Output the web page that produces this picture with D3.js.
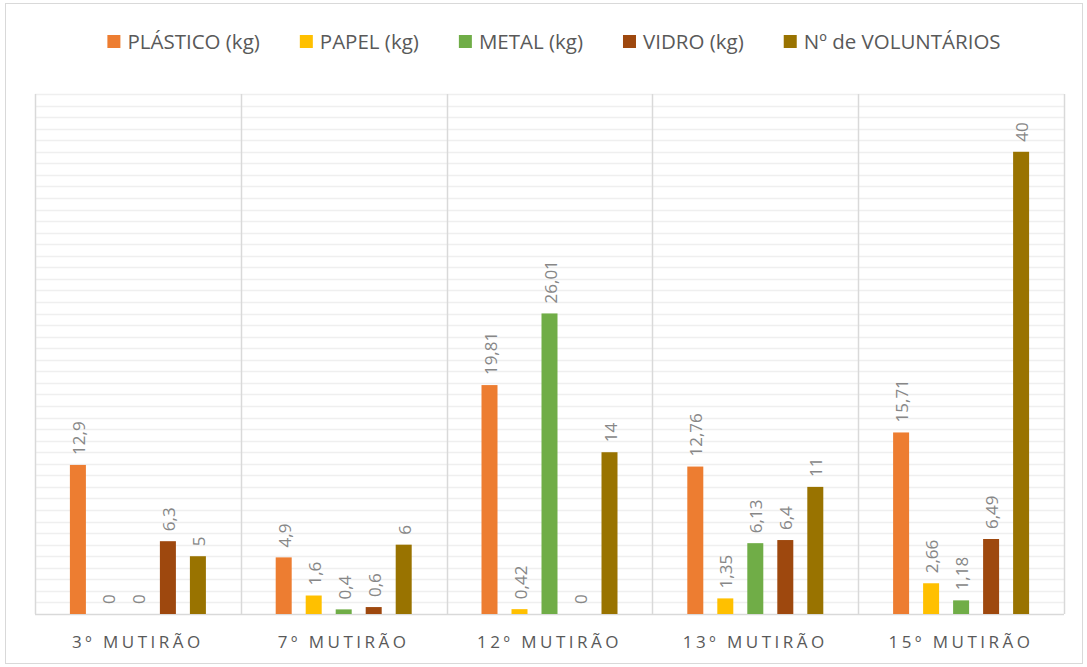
<!DOCTYPE html>
<html>
<head>
<meta charset="utf-8">
<script src="https://cdn.jsdelivr.net/npm/d3@7"></script>
<style>
  body { margin: 0; background: #fff; }
  text { font-family: "Open Sans", Lato, sans-serif; }
</style>
</head>
<body>
<script>
const categories = ["3º MUTIRÃO", "7º MUTIRÃO", "12º MUTIRÃO", "13º MUTIRÃO", "15º MUTIRÃO"];
const seriesNames = ["PLÁSTICO (kg)", "PAPEL (kg)", "METAL (kg)", "VIDRO (kg)", "Nº de VOLUNTÁRIOS"];
const plastico = [12.9, 4.9, 19.81, 12.76, 15.71];
const papel = [0, 1.6, 0.42, 1.35, 2.66];
const metal = [0, 0.4, 26.01, 6.13, 1.18];
const vidro = [6.3, 0.6, 0, 6.4, 6.49];
const voluntarios = [5, 6, 14, 11, 40];
const colors = ["#ED7D31", "#FFC000", "#70AD47", "#9E480E", "#997300"];

const allSeries = [plastico, papel, metal, vidro, voluntarios];

const W = 1087, H = 667;
const margin = {top: 94, right: 23, bottom: 53, left: 35};

const svg = d3.select("body").append("svg")
    .attr("width", W)
    .attr("height", H);

// chart border
svg.append("rect")
    .attr("x", 5.5).attr("y", 3.5)
    .attr("width", W - 10).attr("height", H - 7)
    .attr("fill", "#fff")
    .attr("stroke", "#d9d9d9");

const x = d3.scaleBand()
    .domain(categories)
    .range([margin.left, W - margin.right]);

// 5 bars, step 30px, bar 16px, group centred in the band
const inner = d3.scaleBand()
    .domain(seriesNames)
    .range([x.bandwidth() / 2 - 75, x.bandwidth() / 2 + 75])
    .paddingInner(14 / 30)
    .paddingOuter(7 / 30);

const y = d3.scaleLinear()
    .domain([0, 45])
    .range([H - margin.bottom, margin.top]);

// horizontal gridlines every 1 unit
svg.append("g")
    .selectAll("line")
    .data(d3.range(1, 46))
    .join("line")
    .attr("x1", margin.left).attr("x2", W - margin.right)
    .attr("y1", d => Math.round(y(d)) + 0.5)
    .attr("y2", d => Math.round(y(d)) + 0.5)
    .attr("stroke", "#efefef")
    .attr("stroke-width", 1.5);

// vertical category separators
svg.append("g")
    .selectAll("line")
    .data(categories.map(c => x(c)).concat([x.range()[1]]))
    .join("line")
    .attr("x1", d => Math.round(d) + 0.5).attr("x2", d => Math.round(d) + 0.5)
    .attr("y1", margin.top).attr("y2", H - margin.bottom)
    .attr("stroke", "#d9d9d9")
    .attr("stroke-width", 1.5);

// baseline
svg.append("line")
    .attr("x1", margin.left).attr("x2", W - margin.right)
    .attr("y1", y(0) + 0.5).attr("y2", y(0) + 0.5)
    .attr("stroke", "#d9d9d9")
    .attr("stroke-width", 1.5);

// bars
const rows = [];
categories.forEach((c, i) => {
    seriesNames.forEach((s, j) => {
        rows.push({cat: c, series: s, value: allSeries[j][i], color: colors[j]});
    });
});

svg.append("g")
    .selectAll("rect")
    .data(rows)
    .join("rect")
    .attr("x", d => x(d.cat) + inner(d.series))
    .attr("width", inner.bandwidth())
    .attr("y", d => y(d.value))
    .attr("height", d => y(0) - y(d.value))
    .attr("fill", d => d.color);

const fmt = v => String(v).replace(".", ",");

svg.append("g")
    .selectAll("text")
    .data(rows)
    .join("text")
    .attr("transform", d => {
        const cx = x(d.cat) + inner(d.series) + inner.bandwidth() / 2;
        return `translate(${cx + 7},${y(d.value) - 10}) rotate(-90)`;
    })
    .attr("font-size", 17)
    .attr("fill", "#878787")
    .text(d => fmt(d.value));

// category labels
svg.append("g")
    .selectAll("text")
    .data(categories)
    .join("text")
    .attr("x", d => x(d) + x.bandwidth() / 2)
    .attr("y", H - margin.bottom + 34)
    .attr("text-anchor", "middle")
    .attr("font-size", 17)
    .attr("letter-spacing", 3.5)
    .attr("fill", "#595959")
    .text(d => d);

// legend
const legend = svg.append("g");
const items = legend.selectAll("g")
    .data(seriesNames)
    .join("g");
items.append("rect")
    .attr("width", 13).attr("height", 13)
    .attr("y", -7)
    .attr("fill", (d, i) => colors[i]);
items.append("text")
    .attr("x", 20)
    .attr("y", 0)
    .attr("dy", "0.35em")
    .attr("font-size", 20.5)
    .attr("fill", "#595959")
    .text(d => d);

let offset = 0;
const gap = 40;
const widths = [];
items.each(function () {
    const w = 20 + d3.select(this).select("text").node().getComputedTextLength();
    widths.push(w);
});
const total = d3.sum(widths) + gap * (widths.length - 1);
let start = 554 - total / 2;
items.attr("transform", (d, i) => {
    const t = `translate(${start + offset},42)`;
    offset += widths[i] + gap;
    return t;
});
</script>
</body>
</html>
